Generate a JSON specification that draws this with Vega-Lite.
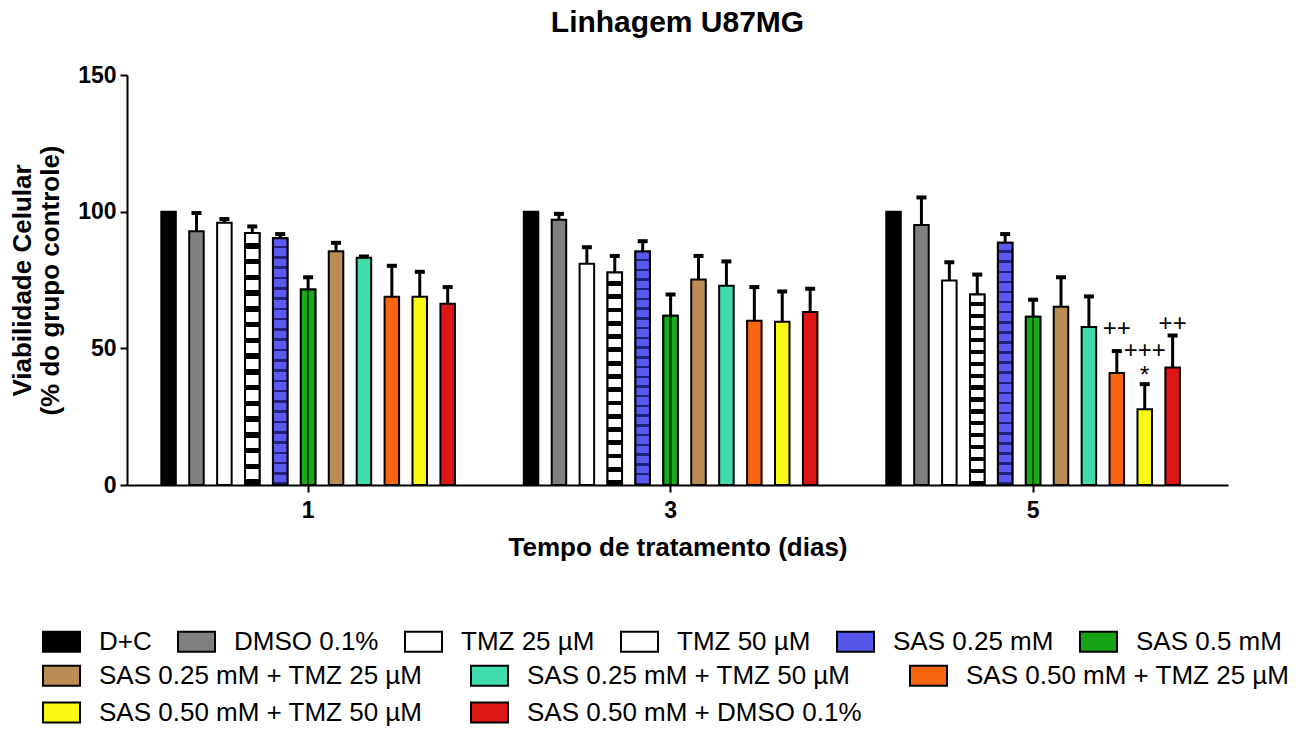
{
  "$schema": "https://vega.github.io/schema/vega-lite/v6.json",
  "width": 1101,
  "height": 410,
  "autosize": {"type": "none"},
  "padding": {"left": 127, "top": 75, "right": 76, "bottom": 246},
  "background": "white",
  "title": {"text": "Linhagem U87MG", "fontSize": 30, "font": "Liberation Sans", "fontWeight": "bold", "color": "black", "anchor": "middle", "frame": "group", "baseline": "alphabetic", "offset": 2},
  "config": {
    "view": {"stroke": null},
    "font": "Liberation Sans",
    "axis": {"domainColor": "black", "domainWidth": 2, "tickColor": "black", "tickWidth": 2, "tickSize": 7, "labelColor": "black", "labelFont": "Liberation Sans", "labelFontWeight": "bold", "labelFontSize": 23, "titleFont": "Liberation Sans", "titleFontWeight": "bold", "titleFontSize": 26, "titleColor": "black", "grid": false, "labelPadding": 4}
  },
  "datasets": {
    "bars": [
      {"day": "1", "treat": "D+C", "mean": 100, "upper": null},
      {"day": "1", "treat": "DMSO 0.1%", "mean": 92.8, "upper": 99.5},
      {"day": "1", "treat": "TMZ 25 µM", "mean": 95.9, "upper": 97.3},
      {"day": "1", "treat": "TMZ 50 µM", "mean": 92.2, "upper": 94.6},
      {"day": "1", "treat": "SAS 0.25 mM", "mean": 90.3, "upper": 91.8},
      {"day": "1", "treat": "SAS 0.5 mM", "mean": 71.5, "upper": 76},
      {"day": "1", "treat": "SAS 0.25 mM + TMZ 25 µM", "mean": 85.5, "upper": 88.6},
      {"day": "1", "treat": "SAS 0.25 mM + TMZ 50 µM", "mean": 83.1, "upper": 83.6},
      {"day": "1", "treat": "SAS 0.50 mM + TMZ 25 µM", "mean": 68.9, "upper": 80.2},
      {"day": "1", "treat": "SAS 0.50 mM + TMZ 50 µM", "mean": 68.9, "upper": 78},
      {"day": "1", "treat": "SAS 0.50 mM + DMSO 0.1%", "mean": 66.3, "upper": 72.4},
      {"day": "3", "treat": "D+C", "mean": 100, "upper": null},
      {"day": "3", "treat": "DMSO 0.1%", "mean": 97, "upper": 99.2},
      {"day": "3", "treat": "TMZ 25 µM", "mean": 80.9, "upper": 87},
      {"day": "3", "treat": "TMZ 50 µM", "mean": 77.7, "upper": 83.8},
      {"day": "3", "treat": "SAS 0.25 mM", "mean": 85.4, "upper": 89.2},
      {"day": "3", "treat": "SAS 0.5 mM", "mean": 61.9, "upper": 69.7},
      {"day": "3", "treat": "SAS 0.25 mM + TMZ 25 µM", "mean": 75.2, "upper": 83.8},
      {"day": "3", "treat": "SAS 0.25 mM + TMZ 50 µM", "mean": 72.9, "upper": 81.8},
      {"day": "3", "treat": "SAS 0.50 mM + TMZ 25 µM", "mean": 60.1, "upper": 72.4},
      {"day": "3", "treat": "SAS 0.50 mM + TMZ 50 µM", "mean": 59.7, "upper": 70.8},
      {"day": "3", "treat": "SAS 0.50 mM + DMSO 0.1%", "mean": 63.3, "upper": 71.8},
      {"day": "5", "treat": "D+C", "mean": 100, "upper": null},
      {"day": "5", "treat": "DMSO 0.1%", "mean": 95.1, "upper": 105.2},
      {"day": "5", "treat": "TMZ 25 µM", "mean": 74.8, "upper": 81.5},
      {"day": "5", "treat": "TMZ 50 µM", "mean": 69.7, "upper": 77},
      {"day": "5", "treat": "SAS 0.25 mM", "mean": 88.6, "upper": 91.8},
      {"day": "5", "treat": "SAS 0.5 mM", "mean": 61.6, "upper": 67.8},
      {"day": "5", "treat": "SAS 0.25 mM + TMZ 25 µM", "mean": 65.2, "upper": 76},
      {"day": "5", "treat": "SAS 0.25 mM + TMZ 50 µM", "mean": 57.8, "upper": 69},
      {"day": "5", "treat": "SAS 0.50 mM + TMZ 25 µM", "mean": 41, "upper": 49},
      {"day": "5", "treat": "SAS 0.50 mM + TMZ 50 µM", "mean": 27.7, "upper": 36.9},
      {"day": "5", "treat": "SAS 0.50 mM + DMSO 0.1%", "mean": 43, "upper": 54.7}
    ],
    "notes": [
      {"day": "5", "treat": "SAS 0.50 mM + TMZ 25 µM", "pos": 54.6, "label": "++"},
      {"day": "5", "treat": "SAS 0.50 mM + TMZ 50 µM", "pos": 46.6, "label": "+++"},
      {"day": "5", "treat": "SAS 0.50 mM + TMZ 50 µM", "pos": 37.2, "label": "*"},
      {"day": "5", "treat": "SAS 0.50 mM + DMSO 0.1%", "pos": 56.4, "label": "++"}
    ]
  },
  "data": {"name": "bars"},
  "encoding": {
    "x": {"field": "day", "type": "nominal", "scale": {"paddingInner": 0.153, "paddingOuter": 0.0952, "align": 0.4}, "axis": {"labelAngle": 0, "labelPadding": 7, "titlePadding": 12}, "title": "Tempo de tratamento (dias)"},
    "xOffset": {"field": "treat", "type": "nominal", "scale": {"domain": ["D+C", "DMSO 0.1%", "TMZ 25 µM", "TMZ 50 µM", "SAS 0.25 mM", "SAS 0.5 mM", "SAS 0.25 mM + TMZ 25 µM", "SAS 0.25 mM + TMZ 50 µM", "SAS 0.50 mM + TMZ 25 µM", "SAS 0.50 mM + TMZ 50 µM", "SAS 0.50 mM + DMSO 0.1%"], "paddingInner": 0.48, "paddingOuter": 0.24}}
  },
  "layer": [
    {
      "transform": [{"filter": {"field": "treat", "oneOf": ["D+C", "DMSO 0.1%", "TMZ 25 µM", "TMZ 50 µM", "SAS 0.25 mM", "SAS 0.5 mM"]}}],
      "mark": {"type": "bar", "stroke": "black", "strokeWidth": 2},
      "encoding": {
        "y": {"field": "mean", "type": "quantitative", "scale": {"domain": [0, 150]}, "axis": {"values": [0, 50, 100, 150], "titlePadding": 14, "titleLineHeight": 28}, "title": ["Viabilidade Celular", "(% do grupo controle)"]},
        "color": {"field": "treat", "type": "nominal", "scale": {"domain": ["D+C", "DMSO 0.1%", "TMZ 25 µM", "TMZ 50 µM", "SAS 0.25 mM", "SAS 0.5 mM"], "range": ["#000000", "#808080", "#ffffff", "#ffffff", "#5656e8", "#16a316"]}, "legend": {"orient": "none", "legendX": -85, "legendY": 547, "direction": "horizontal", "columns": 6, "title": null, "symbolType": "M-1,-0.54H1V0.54H-1Z", "symbolSize": 1369, "symbolStrokeColor": "black", "symbolStrokeWidth": 2, "symbolOpacity": 1, "labelFontSize": 26, "labelFont": "Liberation Sans", "labelColor": "black", "labelOffset": 18, "columnPadding": 22, "padding": 0, "labelLimit": 0}}
      }
    },
    {
      "transform": [{"filter": {"field": "treat", "oneOf": ["SAS 0.25 mM + TMZ 25 µM", "SAS 0.25 mM + TMZ 50 µM", "SAS 0.50 mM + TMZ 25 µM", "SAS 0.50 mM + TMZ 50 µM", "SAS 0.50 mM + DMSO 0.1%"]}}],
      "mark": {"type": "bar", "stroke": "black", "strokeWidth": 2},
      "encoding": {
        "y": {"field": "mean", "type": "quantitative", "scale": {"domain": [0, 150]}},
        "color": {"field": "treat", "type": "nominal", "scale": {"domain": ["SAS 0.25 mM + TMZ 25 µM", "SAS 0.25 mM + TMZ 50 µM", "SAS 0.50 mM + TMZ 25 µM", "SAS 0.50 mM + TMZ 50 µM", "SAS 0.50 mM + DMSO 0.1%"], "range": ["#bc8c55", "#40dcae", "#f86410", "#f8f814", "#de1616"]}, "legend": {"orient": "none", "legendX": -85, "legendY": 581, "direction": "horizontal", "columns": 3, "gridAlign": "each", "title": null, "symbolType": "M-1,-0.54H1V0.54H-1Z", "symbolSize": 1369, "symbolStrokeColor": "black", "symbolStrokeWidth": 2, "symbolOpacity": 1, "labelFontSize": 26, "labelFont": "Liberation Sans", "labelColor": "black", "labelOffset": 18, "columnPadding": 44, "rowPadding": 3, "padding": 0, "labelLimit": 0}}
      }
    },
    {
      "transform": [{"filter": {"field": "treat", "equal": "TMZ 50 µM"}}],
      "mark": {"type": "bar", "stroke": "black", "strokeWidth": 2, "fill": {"gradient": "linear", "x1": 0, "y1": 0, "x2": 0, "y2": 1, "stops": [
        {"offset": 0, "color": "white"}, {"offset": 0.04, "color": "white"}, {"offset": 0.04, "color": "black"}, {"offset": 0.0625, "color": "black"},
        {"offset": 0.0625, "color": "white"}, {"offset": 0.1025, "color": "white"}, {"offset": 0.1025, "color": "black"}, {"offset": 0.125, "color": "black"},
        {"offset": 0.125, "color": "white"}, {"offset": 0.165, "color": "white"}, {"offset": 0.165, "color": "black"}, {"offset": 0.1875, "color": "black"},
        {"offset": 0.1875, "color": "white"}, {"offset": 0.2275, "color": "white"}, {"offset": 0.2275, "color": "black"}, {"offset": 0.25, "color": "black"},
        {"offset": 0.25, "color": "white"}, {"offset": 0.29, "color": "white"}, {"offset": 0.29, "color": "black"}, {"offset": 0.3125, "color": "black"},
        {"offset": 0.3125, "color": "white"}, {"offset": 0.3525, "color": "white"}, {"offset": 0.3525, "color": "black"}, {"offset": 0.375, "color": "black"},
        {"offset": 0.375, "color": "white"}, {"offset": 0.415, "color": "white"}, {"offset": 0.415, "color": "black"}, {"offset": 0.4375, "color": "black"},
        {"offset": 0.4375, "color": "white"}, {"offset": 0.4775, "color": "white"}, {"offset": 0.4775, "color": "black"}, {"offset": 0.5, "color": "black"},
        {"offset": 0.5, "color": "white"}, {"offset": 0.54, "color": "white"}, {"offset": 0.54, "color": "black"}, {"offset": 0.5625, "color": "black"},
        {"offset": 0.5625, "color": "white"}, {"offset": 0.6025, "color": "white"}, {"offset": 0.6025, "color": "black"}, {"offset": 0.625, "color": "black"},
        {"offset": 0.625, "color": "white"}, {"offset": 0.665, "color": "white"}, {"offset": 0.665, "color": "black"}, {"offset": 0.6875, "color": "black"},
        {"offset": 0.6875, "color": "white"}, {"offset": 0.7275, "color": "white"}, {"offset": 0.7275, "color": "black"}, {"offset": 0.75, "color": "black"},
        {"offset": 0.75, "color": "white"}, {"offset": 0.79, "color": "white"}, {"offset": 0.79, "color": "black"}, {"offset": 0.8125, "color": "black"},
        {"offset": 0.8125, "color": "white"}, {"offset": 0.8525, "color": "white"}, {"offset": 0.8525, "color": "black"}, {"offset": 0.875, "color": "black"},
        {"offset": 0.875, "color": "white"}, {"offset": 0.915, "color": "white"}, {"offset": 0.915, "color": "black"}, {"offset": 0.9375, "color": "black"},
        {"offset": 0.9375, "color": "white"}, {"offset": 0.9775, "color": "white"}, {"offset": 0.9775, "color": "black"}, {"offset": 1, "color": "black"}
      ]}},
      "encoding": {
        "y": {"field": "mean", "type": "quantitative", "scale": {"domain": [0, 150]}}
      }
    },
    {
      "transform": [{"filter": {"field": "treat", "equal": "SAS 0.25 mM"}}],
      "mark": {"type": "bar", "stroke": "black", "strokeWidth": 2, "fill": {"gradient": "linear", "x1": 0, "y1": 0, "x2": 0, "y2": 1, "stops": [
        {"offset": 0, "color": "#5a5af0"}, {"offset": 0.03125, "color": "#5a5af0"}, {"offset": 0.03125, "color": "#22227a"}, {"offset": 0.041667, "color": "#22227a"},
        {"offset": 0.041667, "color": "#5a5af0"}, {"offset": 0.072917, "color": "#5a5af0"}, {"offset": 0.072917, "color": "#22227a"}, {"offset": 0.083333, "color": "#22227a"},
        {"offset": 0.083333, "color": "#5a5af0"}, {"offset": 0.114583, "color": "#5a5af0"}, {"offset": 0.114583, "color": "#22227a"}, {"offset": 0.125, "color": "#22227a"},
        {"offset": 0.125, "color": "#5a5af0"}, {"offset": 0.15625, "color": "#5a5af0"}, {"offset": 0.15625, "color": "#22227a"}, {"offset": 0.166667, "color": "#22227a"},
        {"offset": 0.166667, "color": "#5a5af0"}, {"offset": 0.197917, "color": "#5a5af0"}, {"offset": 0.197917, "color": "#22227a"}, {"offset": 0.208333, "color": "#22227a"},
        {"offset": 0.208333, "color": "#5a5af0"}, {"offset": 0.239583, "color": "#5a5af0"}, {"offset": 0.239583, "color": "#22227a"}, {"offset": 0.25, "color": "#22227a"},
        {"offset": 0.25, "color": "#5a5af0"}, {"offset": 0.28125, "color": "#5a5af0"}, {"offset": 0.28125, "color": "#22227a"}, {"offset": 0.291667, "color": "#22227a"},
        {"offset": 0.291667, "color": "#5a5af0"}, {"offset": 0.322917, "color": "#5a5af0"}, {"offset": 0.322917, "color": "#22227a"}, {"offset": 0.333333, "color": "#22227a"},
        {"offset": 0.333333, "color": "#5a5af0"}, {"offset": 0.364583, "color": "#5a5af0"}, {"offset": 0.364583, "color": "#22227a"}, {"offset": 0.375, "color": "#22227a"},
        {"offset": 0.375, "color": "#5a5af0"}, {"offset": 0.40625, "color": "#5a5af0"}, {"offset": 0.40625, "color": "#22227a"}, {"offset": 0.416667, "color": "#22227a"},
        {"offset": 0.416667, "color": "#5a5af0"}, {"offset": 0.447917, "color": "#5a5af0"}, {"offset": 0.447917, "color": "#22227a"}, {"offset": 0.458333, "color": "#22227a"},
        {"offset": 0.458333, "color": "#5a5af0"}, {"offset": 0.489583, "color": "#5a5af0"}, {"offset": 0.489583, "color": "#22227a"}, {"offset": 0.5, "color": "#22227a"},
        {"offset": 0.5, "color": "#5a5af0"}, {"offset": 0.53125, "color": "#5a5af0"}, {"offset": 0.53125, "color": "#22227a"}, {"offset": 0.541667, "color": "#22227a"},
        {"offset": 0.541667, "color": "#5a5af0"}, {"offset": 0.572917, "color": "#5a5af0"}, {"offset": 0.572917, "color": "#22227a"}, {"offset": 0.583333, "color": "#22227a"},
        {"offset": 0.583333, "color": "#5a5af0"}, {"offset": 0.614583, "color": "#5a5af0"}, {"offset": 0.614583, "color": "#22227a"}, {"offset": 0.625, "color": "#22227a"},
        {"offset": 0.625, "color": "#5a5af0"}, {"offset": 0.65625, "color": "#5a5af0"}, {"offset": 0.65625, "color": "#22227a"}, {"offset": 0.666667, "color": "#22227a"},
        {"offset": 0.666667, "color": "#5a5af0"}, {"offset": 0.697917, "color": "#5a5af0"}, {"offset": 0.697917, "color": "#22227a"}, {"offset": 0.708333, "color": "#22227a"},
        {"offset": 0.708333, "color": "#5a5af0"}, {"offset": 0.739583, "color": "#5a5af0"}, {"offset": 0.739583, "color": "#22227a"}, {"offset": 0.75, "color": "#22227a"},
        {"offset": 0.75, "color": "#5a5af0"}, {"offset": 0.78125, "color": "#5a5af0"}, {"offset": 0.78125, "color": "#22227a"}, {"offset": 0.791667, "color": "#22227a"},
        {"offset": 0.791667, "color": "#5a5af0"}, {"offset": 0.822917, "color": "#5a5af0"}, {"offset": 0.822917, "color": "#22227a"}, {"offset": 0.833333, "color": "#22227a"},
        {"offset": 0.833333, "color": "#5a5af0"}, {"offset": 0.864583, "color": "#5a5af0"}, {"offset": 0.864583, "color": "#22227a"}, {"offset": 0.875, "color": "#22227a"},
        {"offset": 0.875, "color": "#5a5af0"}, {"offset": 0.90625, "color": "#5a5af0"}, {"offset": 0.90625, "color": "#22227a"}, {"offset": 0.916667, "color": "#22227a"},
        {"offset": 0.916667, "color": "#5a5af0"}, {"offset": 0.947917, "color": "#5a5af0"}, {"offset": 0.947917, "color": "#22227a"}, {"offset": 0.958333, "color": "#22227a"},
        {"offset": 0.958333, "color": "#5a5af0"}, {"offset": 0.989583, "color": "#5a5af0"}, {"offset": 0.989583, "color": "#22227a"}, {"offset": 1, "color": "#22227a"}
      ]}},
      "encoding": {
        "y": {"field": "mean", "type": "quantitative", "scale": {"domain": [0, 150]}}
      }
    },
    {
      "transform": [{"filter": {"field": "treat", "equal": "SAS 0.5 mM"}}],
      "mark": {"type": "bar", "stroke": "black", "strokeWidth": 2, "fill": {"gradient": "linear", "x1": 0, "y1": 0, "x2": 1, "y2": 0, "stops": [
        {"offset": 0, "color": "#18aa18"}, {"offset": 0.42, "color": "#18aa18"}, {"offset": 0.42, "color": "#0a4a0a"}, {"offset": 0.58, "color": "#0a4a0a"}, {"offset": 0.58, "color": "#18aa18"}, {"offset": 1, "color": "#18aa18"}
      ]}},
      "encoding": {
        "y": {"field": "mean", "type": "quantitative", "scale": {"domain": [0, 150]}}
      }
    },
    {
      "transform": [{"filter": "datum.upper != null"}],
      "mark": {"type": "rule", "color": "black", "strokeWidth": 3},
      "encoding": {
        "y": {"field": "mean", "type": "quantitative", "scale": {"domain": [0, 150]}},
        "y2": {"field": "upper"}
      }
    },
    {
      "transform": [{"filter": "datum.upper != null"}],
      "mark": {"type": "tick", "color": "black", "thickness": 4, "size": 10, "orient": "horizontal", "opacity": 1},
      "encoding": {
        "y": {"field": "upper", "type": "quantitative", "scale": {"domain": [0, 150]}}
      }
    },
    {
      "data": {"name": "notes"},
      "mark": {"type": "text", "fontSize": 24, "font": "Liberation Sans", "baseline": "alphabetic", "color": "black"},
      "encoding": {
        "y": {"field": "pos", "type": "quantitative", "scale": {"domain": [0, 150]}},
        "text": {"field": "label"}
      }
    }
  ],
  "resolve": {"scale": {"color": "independent"}}
}
